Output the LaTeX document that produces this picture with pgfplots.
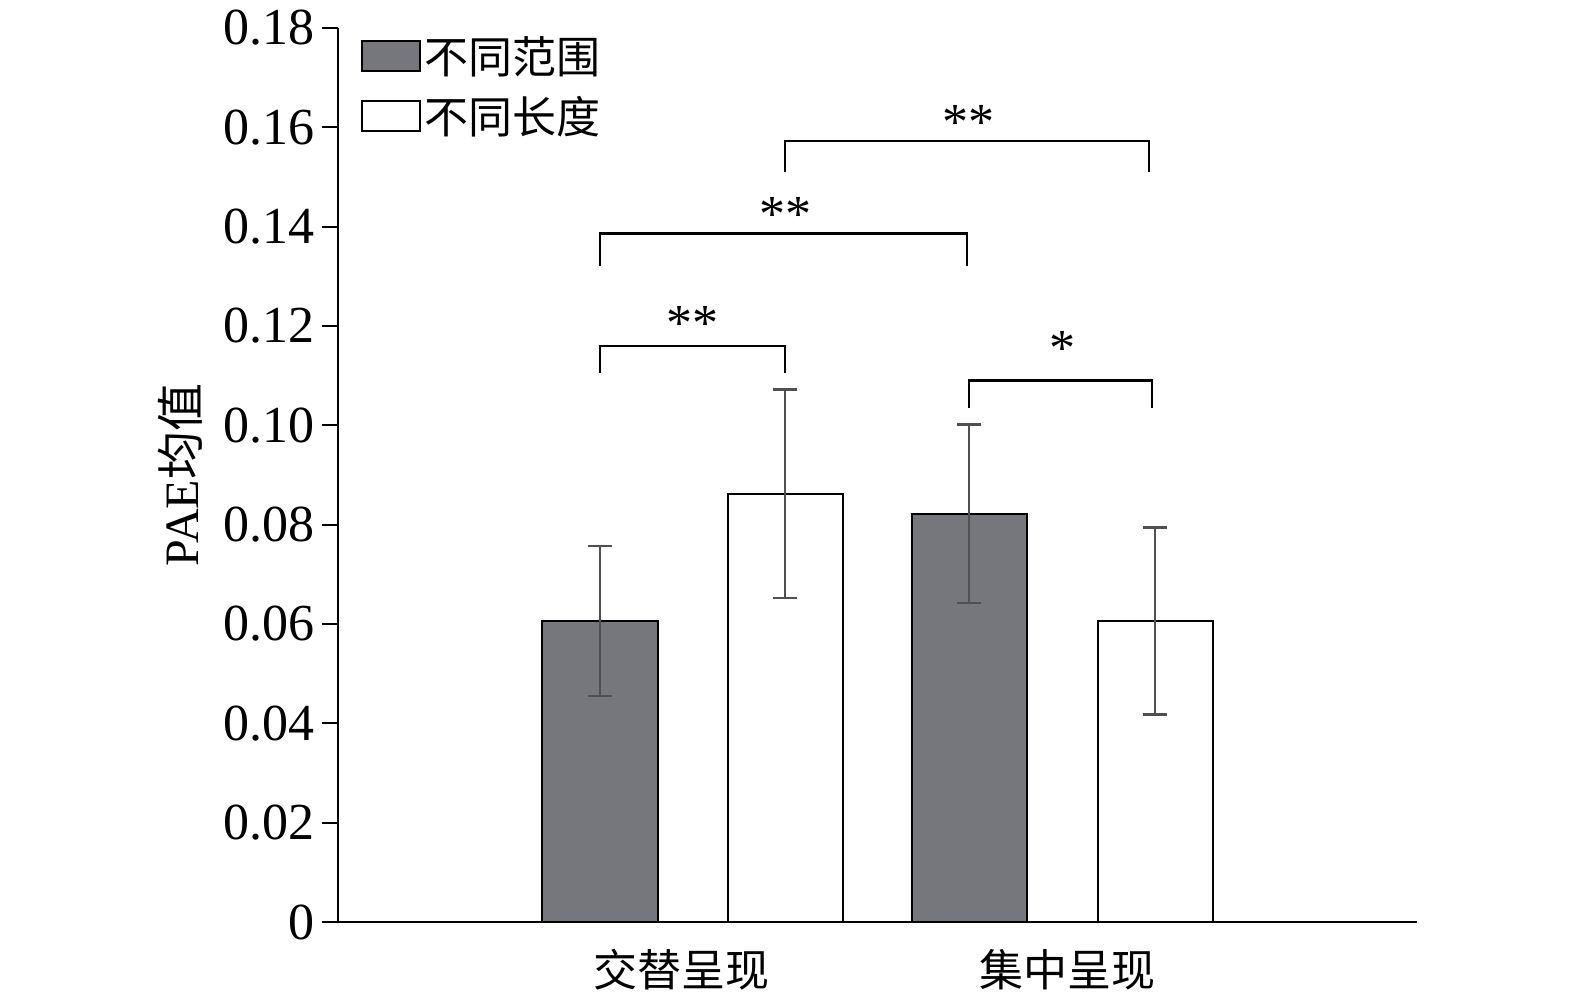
\documentclass[border=0pt]{standalone}
\usepackage{pgfplots}
\pgfplotsset{compat=1.18}
\usepackage{fontspec}
\setmainfont{Liberation Serif}
\newfontfamily\cjk{Noto Sans CJK SC}
\definecolor{barg}{RGB}{117,119,125}
\definecolor{errc}{RGB}{80,80,80}
\begin{document}
\begin{tikzpicture}
\begin{axis}[name=ax, scale only axis, width=539.5pt, height=447pt,
  xmin=338, xmax=1417, ymin=0, ymax=0.18,
  axis lines=left, axis line style={-, line width=1pt},
  tick align=outside, major tick length=8pt, tick style={line width=1pt,black},
  ytick={0,0.02,...,0.18},
  yticklabel style={/pgf/number format/.cd, fixed, fixed zerofill, precision=2},
  /pgf/number format/assume math mode=true,
  yticklabel={\ifdim\tick pt=0pt 0\else\pgfmathprintnumber[fixed,fixed zerofill,precision=2]{\tick}\fi},
  ticklabel style={font=\fontsize{26}{30}\selectfont},
  xtick={682,1067}, xticklabels={交替呈现,集中呈现},
  xticklabel style={font=\cjk\fontsize{22}{26}\selectfont, yshift=-2pt},
  x tick style={draw=none},
  extra x ticks={1417}, extra x tick labels={}, extra x tick style={tick style={draw=black}},
  ylabel={PAE{\cjk 均值}}, ylabel style={font=\fontsize{24}{28}\selectfont, yshift=4pt},
  legend style={at={(0.015,1.0)}, anchor=north west, draw=none, fill=none,
    font=\cjk\fontsize{22}{26}\selectfont, row sep=6pt},
  legend image code/.code={\draw[#1, line width=1pt] (0pt,-7.5pt) rectangle (29pt,7.5pt);},
  clip=false]
\addplot[ybar, bar width=57.5pt, fill=barg, draw=black, line width=1pt, bar shift=0pt,
  error bars/.cd, y dir=both, y explicit, error bar style={errc, line width=1.2pt}, error mark options={rotate=90, mark size=6pt, errc, line width=1.2pt}]
  coordinates {(600,0.0606) +- (0,0.0151) (969,0.0822) +- (0,0.0180)};
\addlegendentry{不同范围}
\addplot[ybar, bar width=57.5pt, fill=white, draw=black, line width=1pt, bar shift=0pt,
  error bars/.cd, y dir=both, y explicit, error bar style={errc, line width=1.2pt}, error mark options={rotate=90, mark size=6pt, errc, line width=1.2pt}]
  coordinates {(785,0.0862) +- (0,0.0210) (1155,0.0606) +- (0,0.0188)};
\addlegendentry{不同长度}
\draw[line width=1.2pt] (axis cs:600,0.1106) -- (axis cs:600,0.116) -- (axis cs:785,0.116) -- (axis cs:785,0.1106);
\node[font=\fontsize{26}{30}\selectfont] at (axis cs:692,0.1205) {**};
\draw[line width=1.2pt] (axis cs:600,0.132) -- (axis cs:600,0.1386) -- (axis cs:967,0.1386) -- (axis cs:967,0.132);
\node[font=\fontsize{26}{30}\selectfont] at (axis cs:785,0.1425) {**};
\draw[line width=1.2pt] (axis cs:785,0.151) -- (axis cs:785,0.1573) -- (axis cs:1149,0.1573) -- (axis cs:1149,0.151);
\node[font=\fontsize{26}{30}\selectfont] at (axis cs:968,0.161) {**};
\draw[line width=1.2pt] (axis cs:969,0.1035) -- (axis cs:969,0.109) -- (axis cs:1152,0.109) -- (axis cs:1152,0.1035);
\node[font=\fontsize{26}{30}\selectfont] at (axis cs:1062,0.1155) {*};
\end{axis}
\pgfresetboundingbox
\path (ax.south west) ++(-169pt,-41.5pt) rectangle ++(787.5pt,502.5pt);
\end{tikzpicture}
\end{document}
